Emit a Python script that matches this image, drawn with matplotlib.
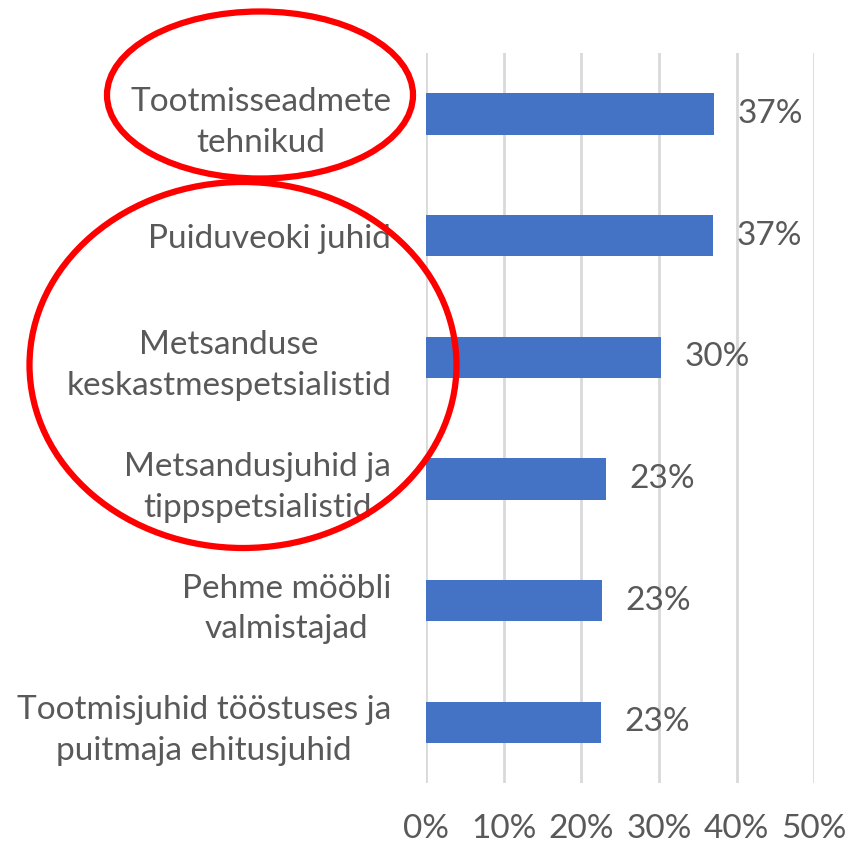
import matplotlib
matplotlib.use("Agg")
import matplotlib.pyplot as plt
from matplotlib.patches import Ellipse

categories = [
    "Tootmisseadmete\ntehnikud",
    "Puiduveoki juhid",
    "Metsanduse\nkeskastmespetsialistid",
    "Metsandusjuhid ja\ntippspetsialistid",
    "Pehme mööbli\nvalmistajad",
    "Tootmisjuhid tööstuses ja\npuitmaja ehitusjuhid",
]
values = [37.1, 37.0, 30.3, 23.2, 22.7, 22.5]
value_labels = ["37%", "37%", "30%", "23%", "23%", "23%"]
xticks = [0, 10, 20, 30, 40, 50]
xtick_labels = ["0%", "10%", "20%", "30%", "40%", "50%"]

plt.rcParams['font.family'] = ['Lato', 'DejaVu Sans']
txt = "#595959"
fs = 24

fig = plt.figure(figsize=(8.5, 8.42), dpi=100)
ax = fig.add_axes([0.501, 0.070, 0.457, 0.867])

y = list(range(len(categories)))
ax.barh(y, values, height=0.34, color="#4472C4", zorder=3)
for yi, v, lab in zip(y, values, value_labels):
    ax.text(v + 3.0, yi, lab, va="center", ha="left", fontsize=fs, color=txt)

ax.set_ylim(len(categories) - 0.5, -0.5)
ax.set_xlim(0, 50)
ax.set_xticks(xticks)
ax.set_xticklabels(xtick_labels, fontsize=fs, color=txt)
ax.set_yticks(y)
ax.set_yticklabels(categories, fontsize=fs, color=txt, multialignment="center",
                   linespacing=1.45)
ax.tick_params(axis="both", length=0)
ax.tick_params(axis="y", pad=25)
ax.tick_params(axis="x", pad=22)
ax.xaxis.grid(True, color="#d9d9d9", linewidth=2, zorder=0)
for s in ax.spines.values():
    s.set_visible(False)

e1 = Ellipse((260 / 850, 1 - 95 / 842), 306 / 850, 167 / 842, transform=fig.transFigure,
             fill=False, edgecolor="#FF0000", linewidth=4.5)
e2 = Ellipse((243 / 850, 1 - 365 / 842), 427 / 850, 366 / 842, transform=fig.transFigure,
             fill=False, edgecolor="#FF0000", linewidth=4.5)
fig.patches.extend([e1, e2])

fig.savefig("out.png", dpi=100)
